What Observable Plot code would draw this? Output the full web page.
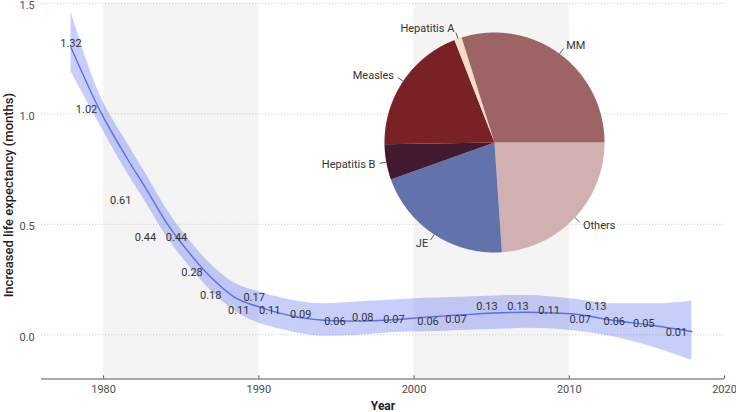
<!DOCTYPE html>
<html><head><meta charset="utf-8">
<script src="https://cdn.jsdelivr.net/npm/d3@7"></script>
<script src="https://cdn.jsdelivr.net/npm/@observablehq/plot@0.6"></script>
<style>
body{margin:0;background:#fff;font-family:Roboto,sans-serif}
#wrap{position:relative;width:736px;height:412px;overflow:hidden}
#pie{position:absolute;left:294px;top:12.3px}
</style>
</head><body><div id="wrap"><div id="main"></div><div id="pie"></div></div>
<script>
// ---- data ----
const shadeStart = [1980, 2000];
const shadeEnd = [1990, 2010];

const smoothYear  = [1977.9, 1979.8, 1981.5, 1982.8, 1984.1, 1985.4, 1986.9, 1988.4, 1990.1, 1991.4, 1994.2, 1996.3, 1998.7, 2000.8, 2003.0, 2005.6, 2007.3, 2010.1, 2012.9, 2015.4, 2017.9];
const smoothFit   = [1.30, 1.01, 0.80, 0.653, 0.502, 0.381, 0.261, 0.172, 0.124, 0.097, 0.066, 0.062, 0.068, 0.080, 0.090, 0.100, 0.102, 0.095, 0.065, 0.042, 0.015];
const smoothLower = [1.19, 0.945, 0.735, 0.59, 0.44, 0.32, 0.20, 0.11, 0.05, 0.025, -0.006, -0.003, 0.01, 0.014, 0.02, 0.025, 0.03, 0.02, -0.01, -0.056, -0.116];
const smoothUpper = [1.46, 1.08, 0.87, 0.72, 0.565, 0.44, 0.32, 0.235, 0.193, 0.168, 0.14, 0.148, 0.158, 0.165, 0.17, 0.177, 0.178, 0.163, 0.14, 0.14, 0.152];

const labelYear  = [1977.9, 1978.9, 1981.1, 1982.7, 1984.7, 1985.7, 1986.9, 1988.7, 1989.7, 1990.7, 1992.7, 1994.9, 1996.7, 1998.7, 2000.9, 2002.7, 2004.7, 2006.7, 2008.7, 2010.7, 2011.7, 2012.9, 2014.8, 2016.9];
const labelValue = [1.32, 1.02, 0.61, 0.44, 0.44, 0.28, 0.18, 0.11, 0.17, 0.11, 0.09, 0.06, 0.08, 0.07, 0.06, 0.07, 0.13, 0.13, 0.11, 0.07, 0.13, 0.06, 0.05, 0.01];

const xTicks = [1980, 1990, 2000, 2010, 2020];
const yTicks = [0, 0.5, 1.0, 1.5];
const xDomain = [1976, 2020];
const yDomain = [-0.2, 1.5];

const pieNames  = ["Others", "JE", "Hepatitis B", "Measles", "Hepatitis A", "MM"];
const pieShares = [23.9, 20.6, 5.2, 19.3, 1.1, 29.8];
const pieColors = ["#d0b0b0", "#6273ac", "#421a30", "#782226", "#f2dcc8", "#9d6465"];

// ---- tables ----
const shades = shadeStart.map((s, i) => ({x1: s, x2: shadeEnd[i]}));
const smooth = smoothYear.map((y, i) => ({year: y, fit: smoothFit[i], lo: smoothLower[i], hi: smoothUpper[i]}));
const labels = labelYear.map((y, i) => ({year: y, value: labelValue[i]}));

const main = Plot.plot({
  width: 736, height: 412,
  marginLeft: 41, marginRight: 12, marginTop: 2.8, marginBottom: 33.5,
  style: {fontFamily: "Roboto, sans-serif", fontSize: "11px", background: "transparent", color: "#333"},
  x: {domain: xDomain},
  y: {domain: yDomain},
  marks: [
    Plot.rect(shades, {x1: "x1", x2: "x2", fill: "#f4f4f4"}),
    Plot.ruleY(yTicks, {stroke: "#c4c4c4", strokeDasharray: "1,2.2"}),
    Plot.areaY(smooth, {x: "year", y1: "lo", y2: "hi", fill: "#4a5ef0", fillOpacity: 0.3, curve: "monotone-x"}),
    Plot.line(smooth, {x: "year", y: "fit", stroke: "#5a6ef2", strokeWidth: 1.4, curve: "monotone-x"}),
    Plot.text(labels, {x: "year", y: "value", text: d => d.value.toFixed(2), fill: "#333", fontSize: 11}),
    Plot.ruleY([yDomain[0]], {stroke: "#555", strokeWidth: 1}),
    Plot.ruleX(xTicks, {y1: yDomain[0], y2: yDomain[0] + 0.014, stroke: "#555"}),
    Plot.axisX({ticks: xTicks, tickFormat: "d", tickSize: 0, tickPadding: 6.5, fill: "#4d4d4d", fontSize: 11, label: null}),
    Plot.axisY({ticks: yTicks, tickFormat: ".1f", tickSize: 0, tickPadding: 6.7, dy: 2.4, fill: "#4d4d4d", fontSize: 11, label: null}),
    Plot.text(["Year"], {frameAnchor: "bottom", dy: 22, lineAnchor: "top", textAnchor: "middle", fontWeight: "bold", fontSize: 12, fill: "#222"}),
    Plot.text(["Increased life expectancy (months)"], {frameAnchor: "left", dx: -33, dy: 4, rotate: -90, textAnchor: "middle", lineAnchor: "middle", fontWeight: 500, fontSize: 13, fill: "#222"})
  ]
});
document.getElementById("main").appendChild(main);

// ---- pie ----
const R = 110, W = 400, H = 260;
const total = d3.sum(pieShares);
let acc = 90;
const slices = pieNames.map((name, i) => {
  const a0 = acc, a1 = acc + pieShares[i] / total * 360;
  acc = a1;
  const pts = [{x: 0, y: 0}];
  const n = Math.max(2, Math.ceil(a1 - a0) * 2);
  for (let k = 0; k <= n; k++) {
    const t = (a0 + (a1 - a0) * k / n) * Math.PI / 180;
    pts.push({x: Math.sin(t), y: Math.cos(t)});
  }
  pts.push({x: 0, y: 0});
  const m = ((a0 + a1) / 2) * Math.PI / 180;
  return {name, color: pieColors[i], pts, sx: Math.sin(m), sy: Math.cos(m)};
});
const tags = slices.map(s => ({
  name: s.name, right: s.sx > 0,
  x1: s.sx, y1: s.sy, x2: s.sx * 1.06, y2: s.sy * 1.06, lx: s.sx * 1.1, ly: s.sy * 1.1
}));

const pie = Plot.plot({
  width: W, height: H, margin: 0,
  style: {fontFamily: "Roboto, sans-serif", fontSize: "11px", background: "transparent", overflow: "visible"},
  x: {domain: [-W / 2 / R, W / 2 / R], axis: null},
  y: {domain: [-H / 2 / R, H / 2 / R], axis: null},
  marks: [
    ...slices.map(s => Plot.line(s.pts, {x: "x", y: "y", fill: s.color, stroke: "none", curve: "linear"})),
    Plot.link(tags, {x1: "x1", y1: "y1", x2: "x2", y2: "y2", stroke: "#333", strokeWidth: 0.8}),
    Plot.text(tags.filter(t => t.right), {x: "lx", y: "ly", text: "name", textAnchor: "start", fill: "#333", fontSize: 11}),
    Plot.text(tags.filter(t => !t.right), {x: "lx", y: "ly", text: "name", textAnchor: "end", fill: "#333", fontSize: 11})
  ]
});
document.getElementById("pie").appendChild(pie);
</script></body></html>
